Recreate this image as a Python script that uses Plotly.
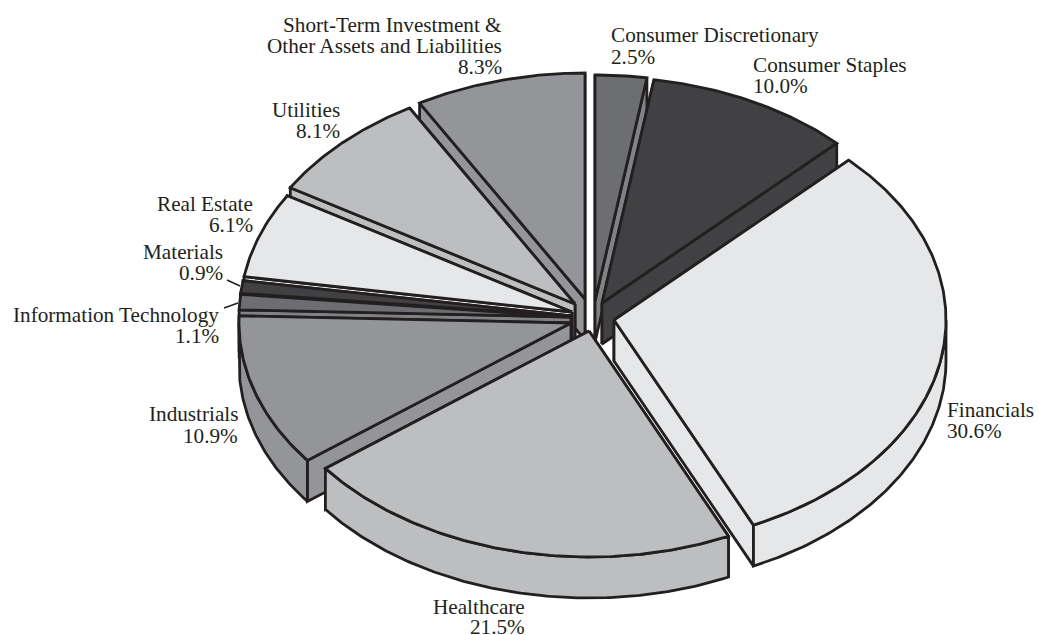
import math
import plotly.graph_objects as go

categories = ["Consumer Discretionary", "Consumer Staples", "Financials", "Healthcare",
              "Industrials", "Information Technology", "Materials", "Real Estate",
              "Utilities", "Short-Term Investment & Other Assets and Liabilities"]
values = [2.5, 10.0, 30.6, 21.5, 10.9, 1.1, 0.9, 6.1, 8.1, 8.3]

colors = ["#6d6e71", "#414042", "#e6e7e8", "#bcbec0", "#939598",
          "#6d6e71", "#414042", "#e6e7e8", "#bcbec0", "#939598"]
side_colors = ["#808285", "#414042", "#e6e7e8", "#bcbec0", "#939598",
               "#808285", "#58595b", "#e6e7e8", "#bcbec0", "#939598"]

# exploded position of each slice's apex on the page
apex_x = [595, 602, 614, 589, 571, 571, 571, 572, 575, 585]
apex_y = [301, 303, 320, 331, 323, 317, 316, 312, 304, 299]
RX, RY, DEPTH = 332, 226, 41
INK = "#231f20"
LW = 2.8
draw_order = [9, 8, 7, 6, 5, 4, 0, 1, 2, 3]

# label lines: (text lines, anchor, x, y of each line)
label_lines = {
    0: (["Consumer Discretionary"], "left", 611, [35, 57]),
    1: (["Consumer Staples"], "left", 753, [65, 86]),
    2: (["Financials"], "left", 947, [410, 431]),
    3: (["Healthcare"], "right", 524, [607, 627]),
    4: (["Industrials"], "right", 237, [414, 436]),
    5: (["Information Technology"], "right", 218, [315, 336]),
    6: (["Materials"], "right", 222, [252, 273]),
    7: (["Real Estate"], "right", 252, [204, 225]),
    8: (["Utilities"], "right", 339, [110, 131]),
    9: (["Short-Term Investment &", "Other Assets and Liabilities"], "right", 501, [25, 46, 67]),
}
leaders = [([227, 240], [280, 286]), ([224, 238], [308, 303])]

fig = go.Figure()


def poly(xs, ys, fill):
    fig.add_trace(go.Scatter(x=xs + xs[:1], y=ys + ys[:1], mode="lines", fill="toself",
                             fillcolor=fill, line=dict(color=INK, width=LW),
                             hoverinfo="skip", showlegend=False))


def pt(i, t):
    return apex_x[i] + RX * math.sin(t), apex_y[i] - RY * math.cos(t)


def arc(i, t0, t1):
    n = max(2, int(abs(t1 - t0) / 0.01))
    return [pt(i, t0 + (t1 - t0) * k / n) for k in range(n + 1)]


edges = [0.0]
for v in values:
    edges.append(edges[-1] + v)
total = edges[-1]
angles = [2 * math.pi * e / total for e in edges]

for i in draw_order:
    t0, t1 = angles[i], angles[i + 1]
    ax, ay = apex_x[i], apex_y[i]
    side = side_colors[i]
    p0, p1 = pt(i, t0), pt(i, t1)
    q0 = ([ax, p0[0], p0[0], ax], [ay, p0[1], p0[1] + DEPTH, ay + DEPTH])
    q1 = ([ax, p1[0], p1[0], ax], [ay, p1[1], p1[1] + DEPTH, ay + DEPTH])
    # hidden cut faces are painted first, visible ones last
    if math.sin(t0) >= 0:
        poly(*q0, side)
    if math.sin(t1) <= 0:
        poly(*q1, side)
    if math.sin(t0) < 0:
        poly(*q0, side)
    if math.sin(t1) > 0:
        poly(*q1, side)
    lo, hi = max(t0, math.pi / 2), min(t1, 3 * math.pi / 2)
    if hi > lo:
        a = arc(i, lo, hi)
        xs = [p[0] for p in a] + [p[0] for p in reversed(a)]
        ys = [p[1] for p in a] + [p[1] + DEPTH for p in reversed(a)]
        poly(xs, ys, side)
    a = arc(i, t0, t1)
    poly([ax] + [p[0] for p in a], [ay] + [p[1] for p in a], colors[i])

for lx, ly in leaders:
    fig.add_trace(go.Scatter(x=lx, y=ly, mode="lines", line=dict(color=INK, width=1.5),
                             hoverinfo="skip", showlegend=False))

for i, (lines, anchor, x, ys) in label_lines.items():
    for text, y in zip(lines + [f"{values[i]:.1f}%"], ys):
        fig.add_annotation(x=x, y=y, text=text, showarrow=False, xanchor=anchor, yanchor="middle",
                           xshift=-2 if anchor == "left" else 3,
                           font=dict(family="Liberation Serif", size=21.2, color=INK))

fig.update_layout(width=1039, height=635, margin=dict(l=0, r=0, t=0, b=0),
                  paper_bgcolor="white", plot_bgcolor="white", showlegend=False,
                  xaxis=dict(range=[0, 1039], visible=False, fixedrange=True),
                  yaxis=dict(range=[635, 0], visible=False, fixedrange=True))
fig.write_html("out.html", config={"displayModeBar": False},
               post_script="document.body.style.margin='0';window.dispatchEvent(new Event('resize'));")
